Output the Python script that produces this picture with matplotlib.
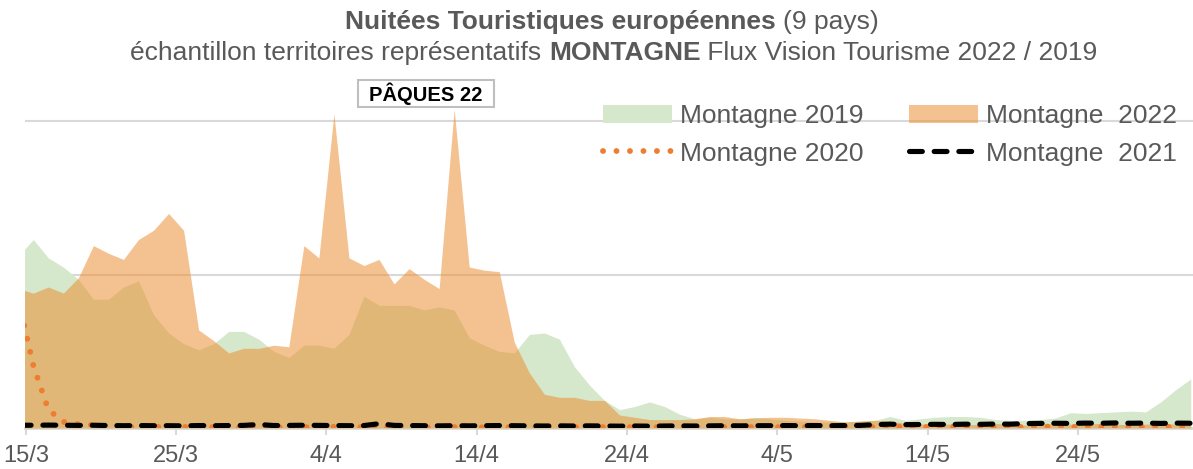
import numpy as np
import matplotlib
matplotlib.use('Agg')
import matplotlib.pyplot as plt
from matplotlib.patches import Patch, Rectangle
from matplotlib.lines import Line2D

plt.rcParams['font.family'] = ['Liberation Sans', 'DejaVu Sans']

# data : one point per day, from 14/3 (-1) to 31/5 (77)
days = np.arange(-1, 78)
tick_labels = ['15/3', '25/3', '4/4', '14/4', '24/4', '4/5', '14/5', '24/5']

m2019 = [112, 123, 111, 105, 97, 84, 84, 92, 96, 74,
         62, 55, 51, 55, 63, 63, 58, 50, 46, 54,
         54, 52, 61, 86, 80, 80, 80, 77, 79, 77,
         59, 54, 50, 49, 61, 62, 58, 40, 28, 18,
         12, 14, 17, 14, 9, 6, 7, 6, 6, 7,
         6, 5, 4.5, 4, 4, 4, 4.5, 5, 7.5, 5,
         6, 7, 7.5, 7.5, 7, 5.5, 5, 5, 5.5, 6.5,
         10, 9.5, 10, 10.5, 11, 10.5, 17, 25, 32]

m2022 = [91, 88, 92, 88, 98, 119, 114, 110, 123, 129,
         140, 129, 64, 57, 49, 52, 52, 54, 53, 119,
         111, 205, 111, 106, 110, 94, 104, 97, 91, 208,
         105, 103, 102, 56, 36, 22, 20, 20, 18, 18,
         8.5, 7, 5.5, 5.5, 5.5, 6, 7.5, 7.5, 6, 6.5,
         7, 7, 6.5, 6, 5, 4, 4.5, 5, 4.5, 3,
         2.5, 3, 2.5, 2, 2.5, 3, 2.5, 2, 2.5, 3,
         2.5, 2.5, 3, 2.5, 2, 2.5, 3, 2.5, 3]

m2020 = [84, 41, 12, 4, 2.5, 2, 1.2, 0.8, 0.6, 0.8,
         0.5, 0.7, 0.5, 0.6, 0.4, 0.5, 0.7, 0.5, 0.4, 0.6,
         0.5, 0.8, 0.6, 0.5, 0.4, 0.6, 0.5, 0.4, 0.5, 0.6,
         0.5, 0.4, 0.6, 0.5, 0.5, 0.4, 0.6, 0.5, 0.7, 0.6,
         0.5, 0.6, 0.5, 0.7, 0.5, 0.6, 0.8, 0.6, 0.5, 0.7,
         0.6, 0.5, 0.7, 0.6, 0.8, 0.6, 0.5, 0.7, 0.9, 0.8,
         0.6, 0.8, 1.0, 0.7, 0.9, 0.8, 0.6, 0.8, 1.0, 0.8,
         0.7, 0.9, 0.8, 0.6, 0.8, 0.9, 0.7, 0.8, 0.9]

m2021 = [1.8, 1.8, 1.9, 1.8, 1.7, 1.8, 1.6, 1.5, 1.6, 1.5,
         1.5, 1.4, 1.6, 1.5, 1.6, 1.7, 2.3, 1.6, 1.7, 1.8,
         1.7, 1.6, 1.5, 1.6, 2.8, 1.7, 1.6, 1.5, 1.4, 1.5,
         1.4, 1.5, 1.6, 1.5, 1.4, 1.3, 1.4, 1.3, 1.4, 1.3,
         1.2, 1.3, 1.2, 1.3, 1.4, 1.3, 1.4, 1.5, 1.4, 1.5,
         1.5, 1.6, 1.5, 1.6, 1.5, 1.6, 1.7, 2.2, 2.5, 2.2,
         2.3, 2.4, 2.3, 2.5, 2.4, 2.6, 2.5, 2.9, 3.0, 3.1,
         3.0, 3.2, 3.1, 3.3, 3.1, 3.2, 3.0, 3.2, 3.1]

grey = '#595959'
green = '#d5e8cc'
orange = '#ec8c2d'
dot_orange = '#ed7d31'
dotted = (0, (0.01, 2.3))
dashed = (0, (2.5, 2.3))

W, H = 1193, 469
fig = plt.figure(figsize=(W / 100, H / 100), dpi=100)
ax = fig.add_axes([25 / W, 1 - 428 / H, (W - 25) / W, 328 / H])

# areas
ax.fill_between(days, 0, m2019, color=green, lw=0, zorder=2)
ax.fill_between(days, 0, m2022, color=orange, alpha=0.53, lw=0, zorder=3)

# lines
ax.plot(days, m2020, color=dot_orange, lw=4.2, linestyle=dotted, dash_capstyle='round', zorder=4)
ax.plot(days, m2021, color='black', lw=3.7, linestyle=dashed, dash_capstyle='round', zorder=5)

ax.set_xlim(-0.55, 77.15)
ax.set_ylim(0, 214)

ax.set_xticks(np.arange(len(tick_labels)) * 10 - 0.5)
ax.set_xticklabels(tick_labels, fontsize=17, color=grey)
ax.tick_params(axis='x', length=5, width=1.5, color='#d9d9d9', pad=7)
ax.set_yticks([100, 200])
ax.tick_params(axis='y', length=0, labelleft=False)
ax.yaxis.grid(True, color='#d9d9d9', lw=1.5)
ax.set_axisbelow(True)
for s in ['top', 'right', 'left']:
    ax.spines[s].set_visible(False)
ax.spines['bottom'].set_color('#d9d9d9')
ax.spines['bottom'].set_linewidth(2)
ax.spines['bottom'].set_zorder(1)

# legend
handles = [Patch(color=green, lw=0),
           Line2D([], [], color=dot_orange, lw=4.2, linestyle=dotted, dash_capstyle='round'),
           Patch(color=orange, alpha=0.53, lw=0),
           Line2D([], [], color='black', lw=3.7, linestyle=dashed, dash_capstyle='round')]
labels = ['Montagne 2019', 'Montagne 2020', 'Montagne  2022', 'Montagne  2021']
leg = fig.legend(handles, labels, ncol=2, loc='upper left', bbox_to_anchor=(603 / W, 1 - 104 / H),
                 frameon=False, fontsize=19, handlelength=2.6, handletextpad=0.3,
                 columnspacing=1.75, labelspacing=0.52, borderpad=0, borderaxespad=0)
for t in leg.get_texts():
    t.set_color(grey)

# title lines with bold parts
def mixed_line(y, parts, size, xc):
    r = fig.canvas.get_renderer()
    texts = [fig.text(0, y, s, fontsize=size, fontweight=w, color=grey, va='center') for s, w in parts]
    widths = [t.get_window_extent(r).width for t in texts]
    x = xc * W - sum(widths) / 2
    for t, w in zip(texts, widths):
        t.set_x(x / W)
        x += w

mixed_line(1 - 22 / H, [('Nuitées Touristiques européennes ', 'bold'), ('(9 pays)', 'normal')], 19, 612 / W)
mixed_line(1 - 53 / H, [('échantillon territoires représentatifs ', 'normal'), ('MONTAGNE', 'bold'),
                        (' Flux Vision Tourisme 2022 / 2019', 'normal')], 19, 614 / W)

# annotation box
fig.patches.append(Rectangle((358 / W, 1 - 107 / H), 136 / W, 27 / H, transform=fig.transFigure,
                             fc='white', ec='#bfbfbf', lw=1.5, zorder=6))
fig.text(426 / W, 1 - 93.5 / H, 'PÂQUES 22', ha='center', va='center', fontsize=14.5, fontweight='bold',
         color='black', zorder=7)

fig.savefig('out.png', dpi=100)
